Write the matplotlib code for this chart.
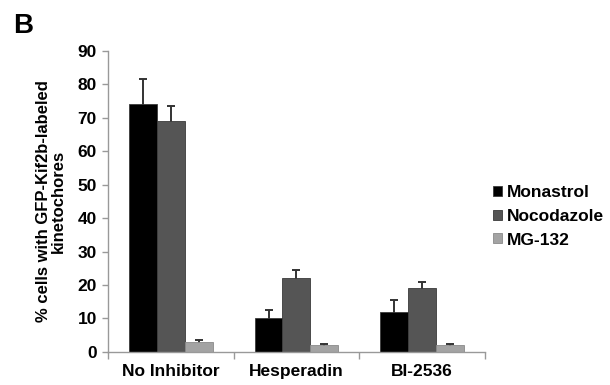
import matplotlib
matplotlib.use('Agg')
import matplotlib.pyplot as plt
import numpy as np

plt.rcParams['font.family'] = ['Liberation Sans', 'DejaVu Sans']
plt.rcParams['font.weight'] = 'bold'

# Data
categories = ['No Inhibitor', 'Hesperadin', 'BI-2536']
series = ['Monastrol', 'Nocodazole', 'MG-132']
monastrol = [74, 10, 12]
nocodazole = [69, 22, 19]
mg132 = [3, 2, 2]
monastrol_err = [7.5, 2.5, 3.5]
nocodazole_err = [4.5, 2.5, 2.0]
mg132_err = [0.5, 0.5, 0.5]

colors = ['#000000', '#555555', '#a3a3a3']

fig = plt.figure(figsize=(6.1, 3.85), dpi=100)
ax = fig.add_axes([0.177, 0.086, 0.618, 0.782])

x = np.arange(len(categories))
w = 1 / 4.5
values = [monastrol, nocodazole, mg132]
errs = [monastrol_err, nocodazole_err, mg132_err]
for i, (name, vals, err, c) in enumerate(zip(series, values, errs, colors)):
    pos = x + (i - 1) * w
    ax.bar(pos, vals, width=w, color=c, edgecolor='#3a3a3a' if i < 2 else '#8a8a8a',
           linewidth=0.6, label=name, zorder=2)
    # error bars go behind the bars so only the upper half shows
    ax.errorbar(pos, vals, yerr=err, fmt='none',
                ecolor='#333333', elinewidth=1.4, capsize=3, capthick=1.4, zorder=1)

ax.set_xlim(-0.5, 2.5)
ax.set_ylim(0, 90)
ax.set_yticks(range(0, 91, 10))
ax.set_xticks(x)
ax.set_xticklabels(categories, fontsize=12.5, fontweight='bold')
ax.set_xticks([-0.5, 0.5, 1.5, 2.5], minor=True)
ax.tick_params(axis='x', which='major', length=0, pad=9)
ax.tick_params(axis='x', which='minor', length=5, color='#999999', width=1)
ax.tick_params(axis='y', length=4, color='#999999', width=1, labelsize=12.5, pad=4)
for lab in ax.get_yticklabels():
    lab.set_fontweight('bold')

for s in ['top', 'right']:
    ax.spines[s].set_visible(False)
for s in ['left', 'bottom']:
    ax.spines[s].set_color('#999999')
    ax.spines[s].set_linewidth(1)

ax.set_ylabel('% cells with GFP-Kif2b-labeled\nkinetochores', fontsize=12,
              fontweight='bold', labelpad=8, linespacing=1.05)

leg = ax.legend(loc='center left', bbox_to_anchor=(0.995, 0.45), frameon=False,
                fontsize=12.5, handlelength=0.5, handleheight=0.5,
                handletextpad=0.25, labelspacing=0.5, borderaxespad=0.2)

fig.text(0.022, 0.915, 'B', fontsize=20, fontweight='bold')

fig.savefig('out.png', dpi=100)
